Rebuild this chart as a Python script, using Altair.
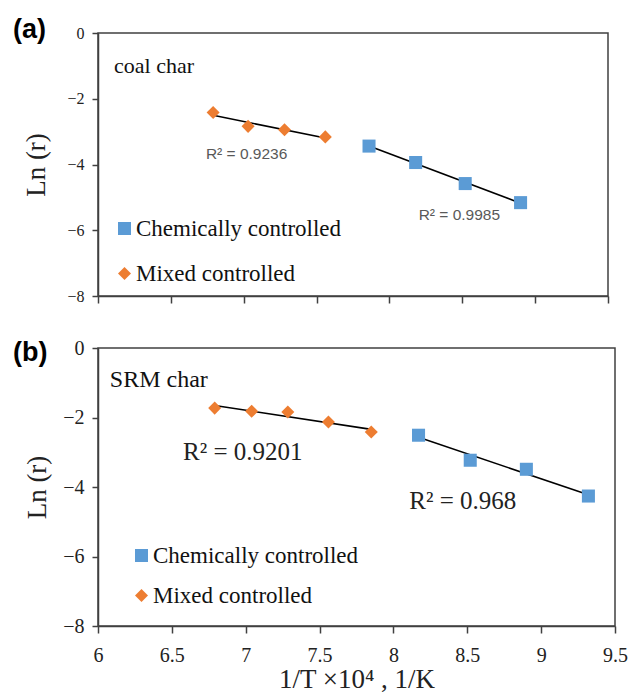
import altair as alt
import pandas as pd

# Regimes shared by both panels
regimes = ["Chemically controlled", "Mixed controlled"]
regime_colors = ["#5B9BD5", "#ED7D31"]
regime_shapes = ["square", "diamond"]

x_ticks = [6, 6.5, 7, 7.5, 8, 8.5, 9, 9.5]
y_ticks = [-8, -6, -4, -2, 0]

# (a) coal char: Ln(r) against 1/T x 10^4
coal_chem_x = [7.86, 8.18, 8.52, 8.90]
coal_chem_y = [-3.44, -3.94, -4.58, -5.16]
coal_mixed_x = [6.79, 7.03, 7.28, 7.56]
coal_mixed_y = [-2.42, -2.84, -2.94, -3.16]

coal_name = ["coal char"]
coal_name_x = [6.11]
coal_name_y = [-1.0]
coal_r2_text = ["R\u00b2 = 0.9236", "R\u00b2 = 0.9985"]
coal_r2_x = [7.02, 8.48]
coal_r2_y = [-3.67, -5.54]

# (b) SRM char
srm_chem_x = [8.17, 8.52, 8.90, 9.32]
srm_chem_y = [-2.51, -3.23, -3.49, -4.26]
srm_mixed_x = [6.79, 7.04, 7.285, 7.56, 7.85]
srm_mixed_y = [-1.73, -1.82, -1.84, -2.13, -2.42]

srm_name = ["SRM char"]
srm_name_x = [6.08]
srm_name_y = [-0.91]
srm_r2_text = ["R\u00b2 = 0.9201", "R\u00b2 = 0.968"]
srm_r2_x = [6.98, 8.47]
srm_r2_y = [-2.99, -4.41]

SERIF = "Liberation Serif"
SANS = "Liberation Sans"
INK = "#404040"


def points_table(cx, cy, mx, my):
    return pd.DataFrame({
        "x": cx + mx,
        "y": cy + my,
        "regime": [regimes[0]] * len(cx) + [regimes[1]] * len(mx),
    })


def panel(df, tag, name, name_x, name_y, r2_text, r2_x, r2_y, *,
          width, height, tick_size, show_x, legend_x, legend_y, row_pad,
          y_title_pad, tag_y, r2_font, r2_size, r2_color, name_size):
    x_axis = alt.Axis(
        values=x_ticks, labels=show_x, title="1/T \u00d710\u2074 , 1/K" if show_x else None,
        tickSize=7, labelFlush=False, labelOverlap=False, labelPadding=12,
        labelFontSize=20, titleFontSize=27, titlePadding=1, format="~g",
    )
    y_axis = alt.Axis(
        values=y_ticks, title="Ln (r)", tickSize=6, labelPadding=8,
        labelFontSize=tick_size, titleFontSize=27, titlePadding=y_title_pad,
        format="d",
    )
    x = alt.X("x:Q", scale=alt.Scale(domain=[6, 9.5], nice=False, zero=False), axis=x_axis)
    y = alt.Y("y:Q", scale=alt.Scale(domain=[-8, 0], nice=False, zero=False), axis=y_axis)

    legend = alt.Legend(
        title=None, orient="none", legendX=legend_x, legendY=legend_y,
        labelFont=SERIF, labelFontSize=23, labelColor="#111111", labelLimit=0,
        symbolSize=170, symbolStrokeWidth=0, rowPadding=row_pad,
        labelOffset=0, padding=0,
    )
    color = alt.Color("regime:N", scale=alt.Scale(domain=regimes, range=regime_colors), legend=legend)
    shape = alt.Shape("regime:N", scale=alt.Scale(domain=regimes, range=regime_shapes), legend=legend)

    base = alt.Chart(df)
    pts = base.mark_point(filled=True, size=170, opacity=1).encode(x=x, y=y, color=color, shape=shape)
    fit = base.transform_regression("x", "y", groupby=["regime"]).mark_line(
        color="black", strokeWidth=1.6
    ).encode(x=x, y=y, detail="regime:N")

    name_df = pd.DataFrame({"x": name_x, "y": name_y, "t": name})
    names = alt.Chart(name_df).mark_text(
        font=SERIF, fontSize=name_size, align="left", baseline="middle", color="#111111"
    ).encode(x=x, y=y, text="t:N")

    r2_df = pd.DataFrame({"x": r2_x, "y": r2_y, "t": r2_text})
    r2 = alt.Chart(r2_df).mark_text(
        font=r2_font, fontSize=r2_size, align="center", baseline="middle", color=r2_color
    ).encode(x=x, y=y, text="t:N")

    # panel letter in the top-left corner, outside the plot frame
    letter = alt.Chart(pd.DataFrame({"t": [tag]})).mark_text(
        font=SANS, fontSize=27, fontWeight="bold", align="left", baseline="middle",
        color="black",
    ).encode(x=alt.value(-85), y=alt.value(tag_y), text="t:N")

    return alt.layer(fit, pts, names, r2, letter).properties(width=width, height=height)


coal = panel(
    points_table(coal_chem_x, coal_chem_y, coal_mixed_x, coal_mixed_y), "(a)",
    coal_name, coal_name_x, coal_name_y, coal_r2_text, coal_r2_x, coal_r2_y,
    width=510, height=263, tick_size=16, show_x=False, legend_x=15, legend_y=184,
    row_pad=21, y_title_pad=16, tag_y=-3.5, r2_font=SANS, r2_size=15.5,
    r2_color="#595959", name_size=22,
)
srm = panel(
    points_table(srm_chem_x, srm_chem_y, srm_mixed_x, srm_mixed_y), "(b)",
    srm_name, srm_name_x, srm_name_y, srm_r2_text, srm_r2_x, srm_r2_y,
    width=517, height=278, tick_size=20, show_x=True, legend_x=32, legend_y=196,
    row_pad=16, y_title_pad=11, tag_y=4.7, r2_font=SERIF, r2_size=25,
    r2_color="#222222", name_size=24,
)

chart = alt.vconcat(coal, srm, spacing=32).resolve_scale(
    color="independent", shape="independent"
).properties(
    padding={"left": 12, "top": 14, "right": 0, "bottom": 0},
    background="white",
).configure_view(
    stroke=INK, strokeWidth=1.5
).configure_axis(
    domainColor=INK, tickColor=INK, domainWidth=1.5, tickWidth=1.5, grid=False,
    labelColor="#222222", titleColor="#222222", labelFont=SERIF, titleFont=SERIF,
    titleFontWeight="normal",
)

chart.save("out.html", embed_options={"renderer": "svg", "actions": False})
